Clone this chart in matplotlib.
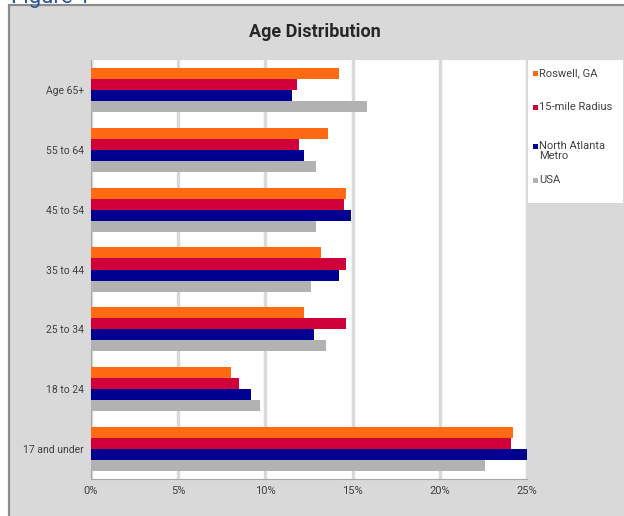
import numpy as np
import matplotlib.pyplot as plt
from matplotlib.patches import Rectangle

categories = ['Age 65+', '55 to 64', '45 to 54', '35 to 44', '25 to 34', '18 to 24', '17 and under']
series_names = ['Roswell, GA', '15-mile Radius', 'North Atlanta\nMetro', 'USA']
roswell = [14.2, 13.6, 14.6, 13.2, 12.2, 8.0, 24.2]
radius_15 = [11.8, 11.9, 14.5, 14.6, 14.6, 8.5, 24.1]
north_atlanta = [11.5, 12.2, 14.9, 14.2, 12.8, 9.2, 25.1]
usa = [15.8, 12.9, 12.9, 12.6, 13.5, 9.7, 22.6]
x_ticks = [0, 5, 10, 15, 20, 25]
colors = ['#ff6a13', '#d0003a', '#000091', '#b2b2b2']

plt.rcParams['font.family'] = ['Roboto', 'DejaVu Sans']

fig = plt.figure(figsize=(6.24, 5.16), dpi=100)
W, H = 624, 516

# outer gray panel with border
fig.patches.append(Rectangle((9 / W, -0.1), 1, 1.1 - 5 / H, transform=fig.transFigure,
                             facecolor='#d9d9d9', edgecolor='#8c8c8c', linewidth=1.6, zorder=-10))
fig.text(11 / W, 1 - 3 / H, 'Figure 1', color='#2f5597', fontsize=16, va='baseline', ha='left')

ax = fig.add_axes([91 / W, 1 - 479 / H, (527 - 91) / W, (479 - 60) / H])
ax.set_facecolor('white')

data = [roswell, radius_15, north_atlanta, usa]
y = np.arange(len(categories))
bh = 0.184
for i, (vals, col) in enumerate(zip(data, colors)):
    ax.barh(y + (i - 1.5) * bh, vals, height=bh, color=col, zorder=3)

ax.set_ylim(len(categories) - 0.5, -0.5)
ax.set_xlim(0, 25)
ax.set_yticks(y)
ax.set_yticklabels(categories, fontsize=7.5, color='#404040')
ax.set_xticks(x_ticks)
ax.set_xticklabels([f'{t}%' for t in x_ticks], fontsize=8, color='#404040')
ax.tick_params(length=0, pad=5)
ax.xaxis.grid(True, color='#d9d9d9', linewidth=2.5, zorder=0)
ax.set_axisbelow(True)
for s in ['top', 'right']:
    ax.spines[s].set_visible(False)
ax.spines['left'].set_color('#a6a6a6')
ax.spines['bottom'].set_color('#a6a6a6')

fig.text(315 / W, 1 - 32 / H, 'Age Distribution', fontsize=13, fontweight='bold',
         color='#262626', ha='center', va='center')

# legend box, entries placed by hand
fig.patches.append(Rectangle((528 / W, 1 - 203 / H), (623 - 528) / W, (203 - 60) / H,
                             transform=fig.transFigure, facecolor='white', edgecolor='none', zorder=-5))
legend_y = [73, 107, 146, 180]
for name, col, ly in zip(series_names, colors, legend_y):
    fig.patches.append(Rectangle((533 / W, 1 - (ly + 3) / H), 5 / W, 5 / H,
                                 transform=fig.transFigure, facecolor=col, edgecolor='none'))
    fig.text(539 / W, 1 - (ly - 5) / H, name, fontsize=8, color='#404040',
             ha='left', va='top', linespacing=1.0)

fig.savefig('out.png', dpi=100)
